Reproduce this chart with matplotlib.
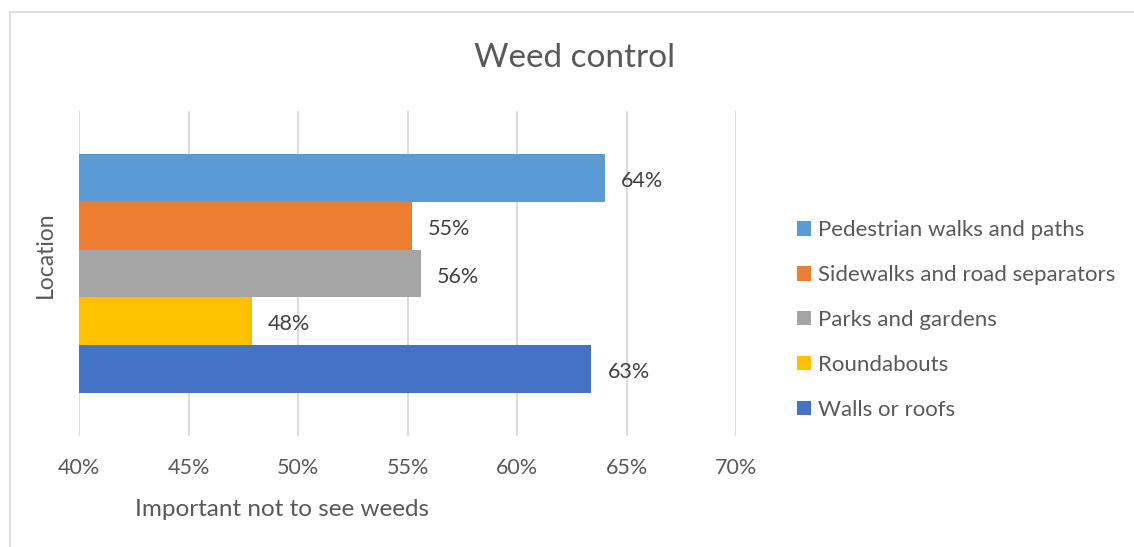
import matplotlib
matplotlib.use("Agg")
import matplotlib.pyplot as plt
from matplotlib.patches import Rectangle
from matplotlib.ticker import PercentFormatter

plt.rcParams["font.family"] = ["Lato", "DejaVu Sans"]

# ── data ───────────────────────────────────────────────────────────────────
# series listed bottom-to-top as drawn in the bar group
locations = ["Walls or roofs", "Roundabouts", "Parks and gardens",
             "Sidewalks and road separators", "Pedestrian walks and paths"]
shares = [0.634, 0.479, 0.556, 0.552, 0.640]
colors = ["#4472C4", "#FFC000", "#A5A5A5", "#ED7D31", "#5B9BD5"]
x_ticks = [0.40, 0.45, 0.50, 0.55, 0.60, 0.65, 0.70]

TEXT = "#595959"
LABEL = "#404040"
GRID = "#D9D9D9"

W, H = 1134, 547
fig = plt.figure(figsize=(W / 100, H / 100), dpi=100)
fig.patch.set_facecolor("white")

# outer chart-area border
fig.patches.append(Rectangle((10 / W, -0.05), 1.2, 1.05 - 12 / H,
                             transform=fig.transFigure, fill=False,
                             edgecolor=GRID, linewidth=1.2))

ax = fig.add_axes([79 / W, 111 / H, 657 / W, 325 / H])
ax.set_xlim(0.40, 0.70)
ax.set_ylim(-0.5, 0.5)

group = 0.735                 # fraction of category band filled by bars
h = group / len(shares)
for i, (name, val, col) in enumerate(zip(locations, shares, colors)):
    y = -group / 2 + (i + 0.5) * h
    ax.barh(y, val - 0.40, left=0.40, height=h, color=col, label=name,
            zorder=3)
    ax.annotate(f"{val:.0%}", (val, y), xytext=(11.5, -2.2),
                textcoords="offset points", va="center", ha="left",
                fontsize=15.5, color=LABEL)

ax.set_xticks(x_ticks)
ax.xaxis.set_major_formatter(PercentFormatter(1.0, decimals=0))
ax.set_yticks([])
ax.tick_params(axis="x", length=0, pad=16, labelsize=15.5, labelcolor=TEXT)
ax.grid(axis="x", color=GRID, linewidth=1.3, zorder=0)
for s in ax.spines.values():
    s.set_visible(False)

fig.text(575 / W, 1 - 58 / H, "Weed control", ha="center", va="center",
         fontsize=24, color=TEXT)
fig.text(282 / W, 1 - 510 / H, "Important not to see weeds", ha="center",
         va="center", fontsize=17.5, color=TEXT)
fig.text(45 / W, 1 - 255 / H, "Location", ha="center", va="center",
         rotation=90, fontsize=16.5, color=TEXT)

handles, labels = ax.get_legend_handles_labels()
fig.legend(handles[::-1], labels[::-1], loc="center left",
           bbox_to_anchor=(777 / W, 1 - 320 / H), frameon=False,
           fontsize=16, labelcolor=TEXT, handlelength=0.63,
           handleheight=0.63, handletextpad=0.3, labelspacing=1.12)

fig.savefig("out.png", dpi=100, facecolor="white")
